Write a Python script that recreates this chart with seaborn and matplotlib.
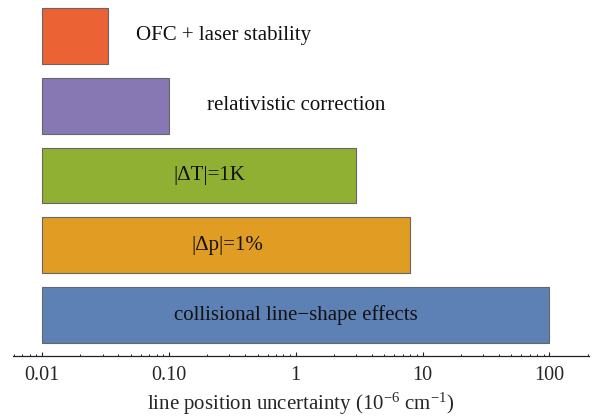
import matplotlib
matplotlib.use("Agg")
import matplotlib.pyplot as plt
import seaborn as sns
import pandas as pd
from matplotlib.ticker import FixedLocator, FixedFormatter, LogLocator, NullFormatter

# ---- data ----
categories = ["OFC + laser stability", "relativistic correction", "|ΔT|=1K",
              "|Δp|=1%", "collisional line\u2212shape effects"]
values = [0.033, 0.10, 3.0, 8.0, 100.0]
colors = ["#EB6235", "#8778B3", "#8FB032", "#E19C24", "#5E81B5"]
base = 0.01
label_x = [0.27, 1.0, 0.21, 0.29, 1.0]
tick_values = [0.01, 0.1, 1, 10, 100]
tick_labels = ["0.01", "0.10", "1", "10", "100"]

sns.set_theme(style="white")
plt.rcParams["font.family"] = ["Liberation Serif", "DejaVu Serif"]
plt.rcParams["mathtext.fontset"] = "custom"
plt.rcParams["mathtext.rm"] = "Liberation Serif"
plt.rcParams["mathtext.it"] = "Liberation Serif:italic"

df = pd.DataFrame({"cat": categories, "val": values})

fig = plt.figure(figsize=(5.92, 4.18), dpi=100)
ax = fig.add_axes([13 / 592, 1 - 356 / 418, (589 - 13) / 592, 356 / 418])

sns.barplot(data=df, x="val", y="cat", hue="cat", palette=colors, legend=False,
            dodge=False, width=0.8, edgecolor="#666666", linewidth=0.8,
            saturation=1, ax=ax)
ax.set_xscale("log")
for p, v in zip(ax.patches, values):
    p.set_x(base)
    p.set_width(v - base)

ax.set_xlim(0.0059, 205)
ax.set_ylim(4.588, -0.516)

for i, (c, lx) in enumerate(zip(categories, label_x)):
    ax.text(lx, i, c, ha="center", va="center", fontsize=15, color="#111111")

for s in ["top", "right", "left"]:
    ax.spines[s].set_visible(False)
ax.spines["bottom"].set_color("#222222")
ax.spines["bottom"].set_linewidth(0.9)

ax.xaxis.set_major_locator(FixedLocator(tick_values))
ax.xaxis.set_major_formatter(FixedFormatter(tick_labels))
ax.xaxis.set_minor_locator(LogLocator(base=10, subs=range(2, 10), numticks=20))
ax.xaxis.set_minor_formatter(NullFormatter())
ax.tick_params(axis="x", which="major", direction="in", length=3.2, width=0.8,
               color="#222222", labelsize=14.5, pad=7.5, bottom=True)
ax.tick_params(axis="x", which="minor", direction="in", length=1.8, width=0.7,
               color="#222222", bottom=True)
ax.set_yticks([])
ax.set_ylabel("")
ax.set_xlabel("line position uncertainty (10$^{\u22126}$ cm$^{\u22121}$)", fontsize=15,
              labelpad=4)

fig.savefig("out.png", dpi=100)
